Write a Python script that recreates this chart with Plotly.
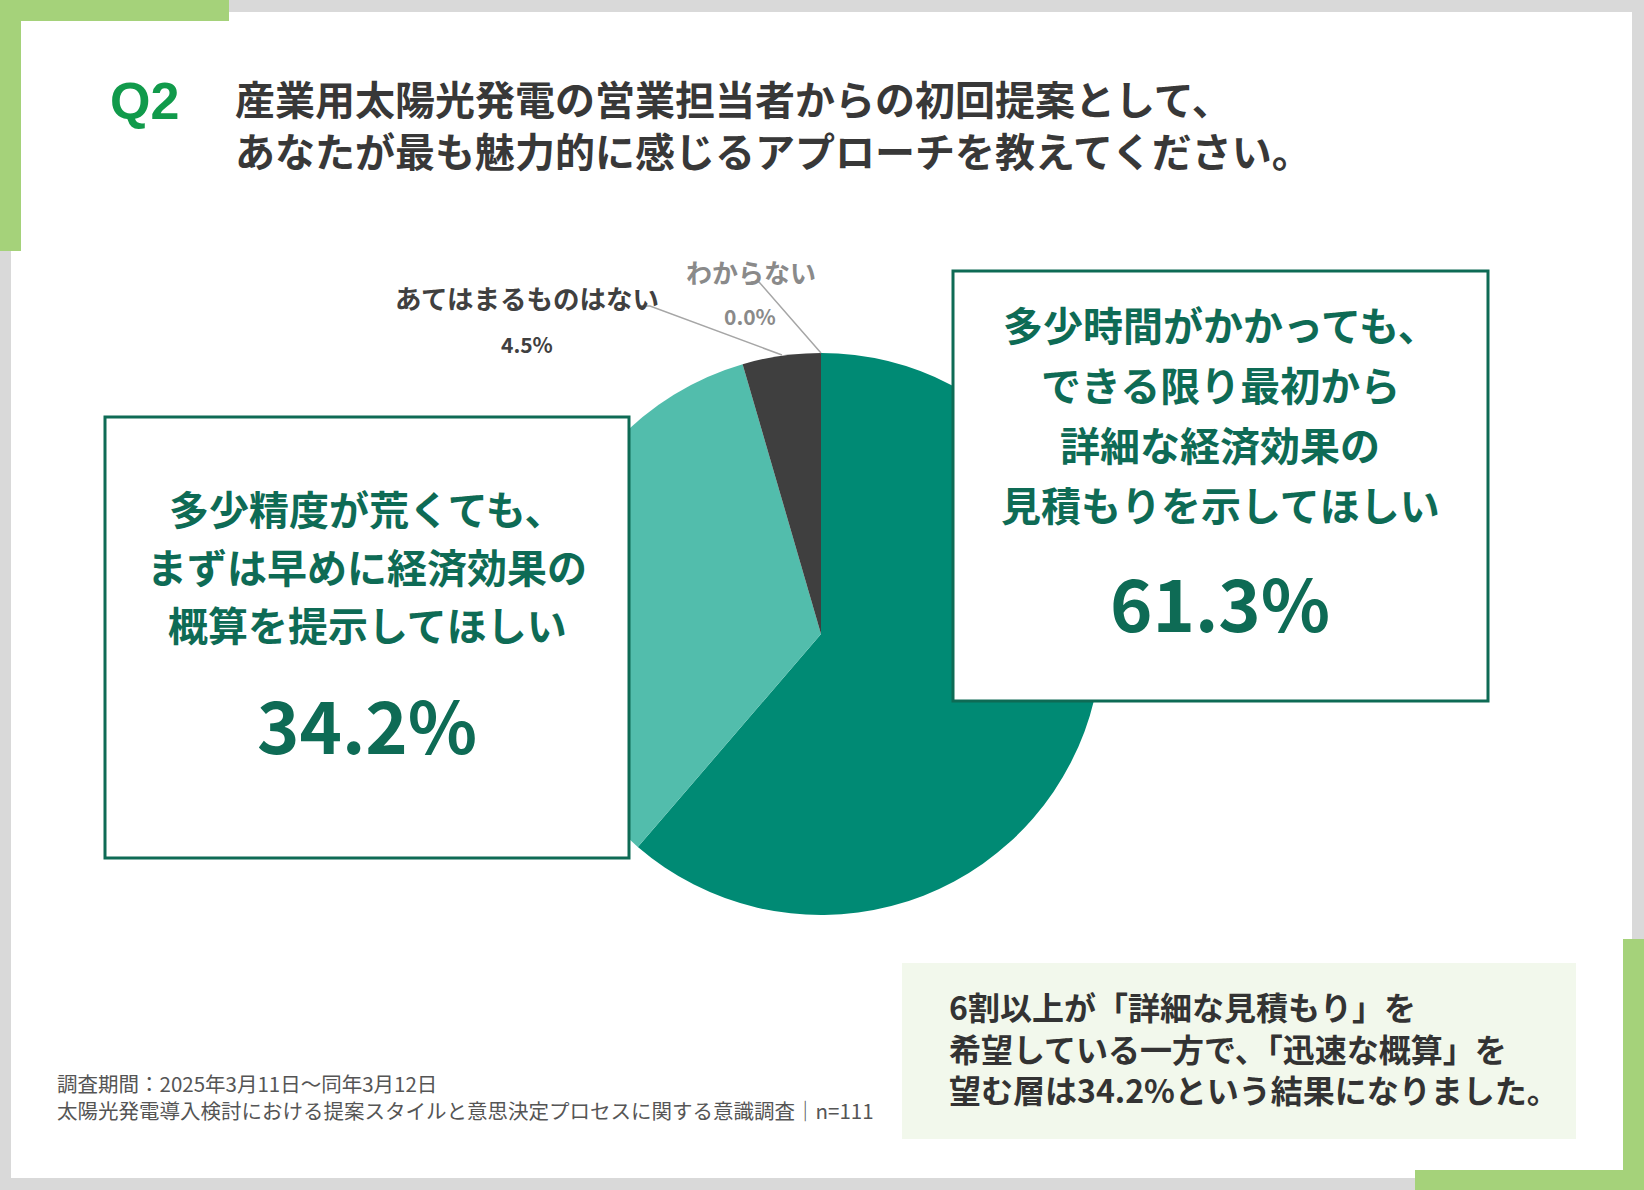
import plotly.graph_objects as go

# ---- data ----
categories = [
    "多少時間がかかっても、できる限り最初から詳細な経済効果の見積もりを示してほしい",
    "多少精度が荒くても、まずは早めに経済効果の概算を提示してほしい",
    "あてはまるものはない",
    "わからない",
]
values = [61.3, 34.2, 4.5, 0.0]
slice_colors = ["#008a74", "#52bdac", "#3f3f3f", "#9a9a9a"]

title_lines = [
    "産業用太陽光発電の営業担当者からの初回提案として、",
    "あなたが最も魅力的に感じるアプローチを教えてください。",
]
right_lines = ["多少時間がかかっても、", "できる限り最初から", "詳細な経済効果の", "見積もりを示してほしい"]
left_lines = ["多少精度が荒くても、", "まずは早めに経済効果の", "概算を提示してほしい"]
summary_lines = [
    "6割以上が「詳細な見積もり」を",
    "希望している一方で、「迅速な概算」を",
    "望む層は34.2%という結果になりました。",
]
footer_lines = [
    "調査期間：2025年3月11日～同年3月12日",
    "太陽光発電導入検討における提案スタイルと意思決定プロセスに関する意識調査｜n=111",
]

W, H = 1644, 1190
JP = "Noto Sans CJK JP"
GREEN_TXT = "#0e6b55"
BOX_LINE = "#0e6b55"
ACCENT = "#a5d27a"

fig = go.Figure()

# pie: center (821, 634) radius 281 in pixel coords
cx, cy, r = 821, 634, 281
fig.add_trace(go.Pie(
    labels=categories,
    values=values,
    sort=False,
    direction="clockwise",
    rotation=0,
    marker=dict(colors=slice_colors, line=dict(width=0)),
    textinfo="none",
    hoverinfo="label+percent",
    showlegend=False,
    domain=dict(x=[(cx - r) / W, (cx + r) / W], y=[1 - (cy + r) / H, 1 - (cy - r) / H]),
))

shapes = []
# white card
shapes.append(dict(type="rect", xref="x", yref="y", x0=11, x1=1632, y0=12, y1=1178,
                   fillcolor="white", line=dict(width=0), layer="below"))
# green accents
for (x0, x1, y0, y1) in [(0, 229, 0, 21), (0, 21, 0, 251), (1623, 1644, 939, 1190), (1415, 1644, 1170, 1190)]:
    shapes.append(dict(type="rect", xref="x", yref="y", x0=x0, x1=x1, y0=y0, y1=y1,
                       fillcolor=ACCENT, line=dict(width=0), layer="below"))
# summary box
shapes.append(dict(type="rect", xref="x", yref="y", x0=902, x1=1576, y0=963, y1=1139,
                   fillcolor="#f2f8ec", line=dict(width=0), layer="below"))
# callout boxes (above pie)
shapes.append(dict(type="rect", xref="x", yref="y", x0=105, x1=629, y0=417, y1=858,
                   fillcolor="white", line=dict(color=BOX_LINE, width=3), layer="above"))
shapes.append(dict(type="rect", xref="x", yref="y", x0=953, x1=1488, y0=271, y1=701,
                   fillcolor="white", line=dict(color=BOX_LINE, width=3), layer="above"))
# leader lines
shapes.append(dict(type="path", xref="x", yref="y", path="M 637 306 L 650 306 L 782 355",
                   line=dict(color="#a6a6a6", width=1.5), layer="above"))
shapes.append(dict(type="path", xref="x", yref="y", path="M 751 282 L 759 282 L 821 353",
                   line=dict(color="#a6a6a6", width=1.5), layer="above"))

ann = []

def text(x, y, s, size, color, anchor="center", weight="bold", family=JP, align="center"):
    ann.append(dict(x=x, y=y, xref="x", yref="y", text=s, showarrow=False,
                    xanchor=anchor, yanchor="middle", align=align,
                    font=dict(family=family, size=size, color=color, weight=weight)))

# header
text(108, 101, "Q2", 52, "#119a4b", anchor="left", family="Liberation Sans, Arial")
text(233, 124, "<br>".join(title_lines), 40, "#383838", anchor="left", align="left")

# outside labels
text(751, 271, "わからない", 26, "#8a8a8a")
text(750, 316, "0.0%", 21, "#8a8a8a")
text(527, 297, "あてはまるものはない", 26.5, "#404040")
text(527, 344, "4.5%", 21, "#404040")

# left box
for y, s in zip([508, 566, 624], left_lines):
    text(367, y, s, 40, GREEN_TXT)
text(367, 722, "34.2%", 72, GREEN_TXT)

# right box
for y, s in zip([324, 384, 444, 504], right_lines):
    text(1220, y, s, 40, GREEN_TXT)
text(1220, 600, "61.3%", 72, GREEN_TXT)

# summary
text(947, 1047, "<br>".join(summary_lines), 32, "#333333", anchor="left", align="left")

# footer
text(55, 1096, "<br>".join(footer_lines), 20.5, "#555555", anchor="left", weight="normal", align="left")

fig.update_layout(
    width=W, height=H,
    margin=dict(l=0, r=0, t=0, b=0),
    paper_bgcolor="#d9d9d9",
    plot_bgcolor="rgba(0,0,0,0)",
    xaxis=dict(range=[0, W], visible=False, fixedrange=True),
    yaxis=dict(range=[H, 0], visible=False, fixedrange=True),
    shapes=shapes,
    annotations=ann,
)

fig.write_html(
    "out.html",
    config={"displayModeBar": False},
    post_script="document.body.style.margin='0';document.body.style.overflow='hidden';",
)
